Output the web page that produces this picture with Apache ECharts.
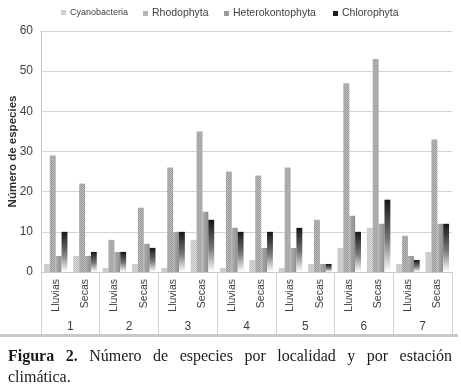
<!DOCTYPE html>
<html>
<head>
<meta charset="utf-8">
<script src="https://cdn.jsdelivr.net/npm/echarts@6/dist/echarts.min.js"></script>
<style>
  html, body { margin: 0; padding: 0; background: #fff; }
  #wrap { position: relative; width: 461px; height: 390px; overflow: hidden; }
  #chart { position: absolute; left: 0; top: 0; width: 461px; height: 390px; }
  .rule { position: absolute; left: 0; top: 334px; width: 458px; height: 3px; background: #c8c8c8; }
  .caption { position: absolute; left: 8px; top: 345px; width: 444px; font-family: 'Liberation Serif', 'DejaVu Serif', serif; font-size: 16px; line-height: 21px; color: #1a1a1a; }
  .caption .l1 { text-align: justify; text-align-last: justify; white-space: nowrap; }
  .caption b { font-weight: bold; }
</style>
</head>
<body>
<div id="wrap">
  <div id="chart"></div>
  <div class="rule"></div>
  <div class="caption">
    <div class="l1"><b>Figura 2.</b> Número de especies por localidad y por estación</div>
    <div>climática.</div>
  </div>
</div>
<script>
// localidad -> estación (Lluvias, Secas)
const localidades = ['1', '2', '3', '4', '5', '6', '7']
const estaciones = ['Lluvias', 'Secas']
const categorias = localidades.flatMap(() => estaciones)

const cyanobacteria    = [2, 4, 1, 2, 1, 8, 1, 3, 1, 2, 6, 11, 2, 5]
const rhodophyta       = [29, 22, 8, 16, 26, 35, 25, 24, 26, 13, 47, 53, 9, 33]
const heterokontophyta = [4, 4, 5, 7, 10, 15, 11, 6, 6, 2, 14, 12, 4, 12]
const chlorophyta      = [10, 5, 5, 6, 10, 13, 10, 10, 11, 2, 10, 18, 3, 12]

const font = "'Liberation Sans', Arial, sans-serif"
// fine checkerboard texture like the printed figure
const dots = (c) => ({
  symbol: 'rect',
  symbolSize: 1,
  dashArrayX: [[1, 1], [0, 1, 1, 0]],
  dashArrayY: [1, 0],
  color: c,
})

const chart = echarts.init(document.getElementById('chart'))

function legendAt(name, left, color, size) {
  return {
    left,
    top: 8,
    padding: 0,
    itemWidth: 5,
    itemHeight: 5,
    itemGap: 0,
    icon: 'rect',
    selectedMode: false,
    textStyle: { fontFamily: font, fontSize: size, color: '#404040', padding: [0, 0, 0, -1] },
    data: [{ name, itemStyle: { color } }],
  }
}

const option = {
  animation: false,
  textStyle: { fontFamily: font },
  legend: [
    legendAt('Cyanobacteria', 61, '#c4c4c4', 9),
    legendAt('Rhodophyta', 143, '#a8a8a8', 10.5),
    legendAt('Heterokontophyta', 224, '#959595', 10.5),
    legendAt('Chlorophyta', 333, '#1e1e1e', 10.5),
  ],
  grid: { left: 41, right: 9, top: 31, bottom: 118, containLabel: false, outerBoundsMode: 'none' },
  xAxis: [
    {
      type: 'category',
      data: categorias,
      position: 'bottom',
      axisLine: { lineStyle: { color: '#c8c8c8' } },
      axisTick: { show: false },
      axisLabel: { interval: 0, rotate: 90, margin: 7, fontSize: 10.5, color: '#404040' },
    },
    {
      type: 'category',
      data: localidades,
      position: 'bottom',
      axisLine: { show: false },
      axisTick: { show: true, length: 62, lineStyle: { color: '#d0d0d0' } },
      axisLabel: { margin: 49, fontSize: 12, color: '#404040' },
    },
  ],
  yAxis: {
    type: 'value',
    min: 0,
    max: 60,
    interval: 10,
    name: 'Número de especies',
    nameLocation: 'middle',
    nameGap: 22,
    nameMoveOverlap: false,
    nameTextStyle: { fontFamily: font, fontSize: 11.5, fontWeight: 'bold', color: '#303030' },
    axisLine: { show: true, lineStyle: { color: '#c8c8c8' } },
    axisTick: { show: false },
    axisLabel: { margin: 8, fontSize: 12, color: '#404040' },
    splitLine: { lineStyle: { color: '#d4d4d4' } },
  },
  series: [
    {
      name: 'Cyanobacteria',
      type: 'bar',
      barGap: 0,
      barCategoryGap: '20%',
      data: cyanobacteria,
      itemStyle: { color: '#c2c2c2', decal: dots('rgba(255,255,255,0.35)') },
    },
    {
      name: 'Rhodophyta',
      type: 'bar',
      data: rhodophyta,
      itemStyle: { color: '#9c9c9c', decal: dots('rgba(255,255,255,0.3)') },
    },
    {
      name: 'Heterokontophyta',
      type: 'bar',
      data: heterokontophyta,
      itemStyle: {
        color: new echarts.graphic.LinearGradient(0, 0, 1, 0, [
          { offset: 0, color: '#adadad' },
          { offset: 1, color: '#858585' },
        ]),
        decal: dots('rgba(255,255,255,0.12)'),
      },
    },
    {
      name: 'Chlorophyta',
      type: 'bar',
      data: chlorophyta,
      itemStyle: {
        color: new echarts.graphic.LinearGradient(0, 0, 0, 1, [
          { offset: 0, color: '#161616' },
          { offset: 0.55, color: '#777777' },
          { offset: 1, color: '#ffffff' },
        ]),
      },
    },
  ],
}

chart.setOption(option)
</script>
</body>
</html>
